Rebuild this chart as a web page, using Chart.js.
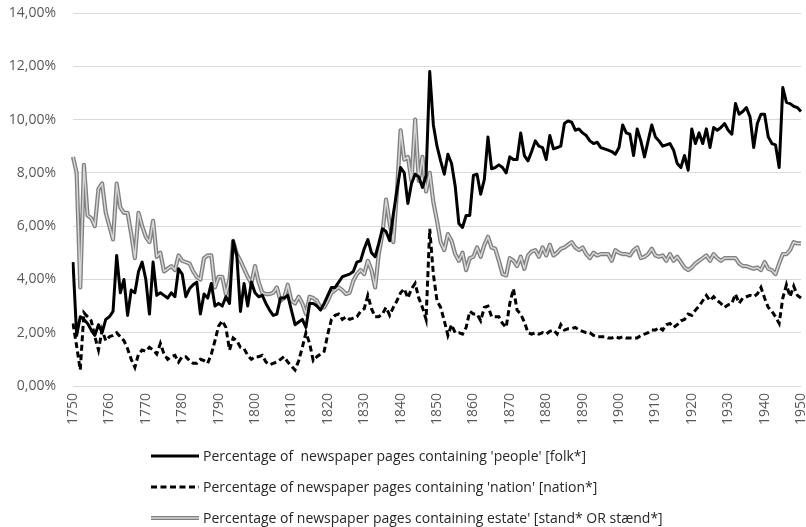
<!DOCTYPE html>
<html>
<head>
<meta charset="utf-8">
<script src="https://cdn.jsdelivr.net/npm/chart.js@4.4.1/dist/chart.umd.min.js"></script>
<style>
  body { margin: 0; background: #fff; }
  #wrap { position: relative; width: 806px; height: 527px; }
  #legenda { position: absolute; left: 151px; top: 440px; font-family: 'Open Sans', sans-serif; font-size: 14px; color: #262626; }
  #legenda div { height: 31px; display: flex; align-items: center; white-space: pre; }
  #legenda svg { margin-right: 4px; }
</style>
</head>
<body>
<div id="wrap">
  <canvas id="grafico"></canvas>
  <div id="legenda"></div>
</div>
<script>
const years = Array.from({ length: 201 }, (_, i) => 1750 + i)

const seriesNames = [
    "Percentage of  newspaper pages containing 'people' [folk*]",
    "Percentage of newspaper pages containing 'nation' [nation*]",
    "Percentage of newspaper pages containing estate' [stand* OR stænd*]"
]

// folk*
const people = [
    4.65, 1.9, 2.6, 2.5, 2.35, 2.1, 1.9, 2.3, 2.0, 2.5,
    2.6, 2.8, 4.9, 3.5, 4.0, 2.65, 3.6, 3.5, 4.3, 4.65,
    4.0, 2.7, 4.65, 3.4, 3.5, 3.4, 3.3, 3.5, 3.35, 4.4,
    4.2, 3.35, 3.65, 3.8, 3.9, 2.7, 3.45, 3.3, 3.85, 3.0,
    3.1, 3.0, 3.35, 3.1, 5.45, 4.9, 2.8, 3.85, 3.0, 3.9,
    3.5, 3.35, 3.4, 3.1, 2.85, 2.65, 2.7, 3.3, 3.3, 3.4,
    2.85, 2.3, 2.4, 2.5, 2.2, 3.1, 3.1, 3.0, 2.85, 3.1,
    3.4, 3.7, 3.7, 3.9, 4.1, 4.15, 4.2, 4.3, 4.65, 4.7,
    5.15, 5.5, 5.0, 4.85, 5.35, 5.9, 5.8, 5.45, 6.45, 7.35,
    8.2, 8.0, 6.85, 7.6, 7.95, 7.85, 7.45, 7.9, 11.8, 9.8,
    9.0, 8.45, 7.95, 8.7, 8.35, 7.5, 6.1, 5.95, 6.4, 6.4,
    7.9, 7.95, 7.2, 7.75, 9.35, 8.15, 8.2, 8.3, 8.2, 8.0,
    8.6, 8.5, 8.5, 9.5, 8.65, 8.45, 8.8, 9.2, 9.0, 8.95,
    8.5, 9.4, 8.9, 8.95, 9.0, 9.85, 9.95, 9.9, 9.6, 9.65,
    9.5, 9.4, 9.2, 9.1, 9.15, 8.95, 8.9, 8.85, 8.8, 8.7,
    8.95, 9.8, 9.5, 9.45, 8.65, 9.65, 9.2, 8.6, 9.2, 9.8,
    9.35, 9.2, 9.0, 9.05, 9.1, 8.85, 8.35, 8.2, 8.65, 8.1,
    9.65, 9.1, 9.5, 9.1, 9.65, 8.95, 9.7, 9.6, 9.7, 9.85,
    9.6, 9.45, 10.6, 10.2, 10.3, 10.45, 10.1, 8.95, 9.85, 10.2,
    10.2, 9.35, 9.1, 9.05, 8.2, 11.2, 10.65, 10.6, 10.5, 10.45,
    10.3
]

// nation*
const nation = [
    2.35, 1.5, 0.6, 2.75, 2.6, 2.45, 1.85, 1.35, 2.1, 1.7,
    1.85, 1.9, 2.0, 1.85, 1.7, 1.4, 1.0, 0.7, 1.2, 1.35,
    1.3, 1.45, 1.35, 1.2, 1.6, 1.2, 1.0, 1.1, 1.15, 0.9,
    1.1, 1.1, 0.95, 0.85, 0.85, 1.0, 0.95, 0.85, 1.2, 1.7,
    2.25, 2.45, 2.2, 1.35, 1.8, 1.7, 1.45, 1.4, 1.15, 1.0,
    1.1, 1.1, 1.15, 0.9, 0.8, 0.85, 0.9, 1.0, 1.1, 0.9,
    0.75, 0.6, 0.95, 1.45, 2.0, 1.6, 0.95, 1.1, 1.2, 1.3,
    1.95, 2.5, 2.65, 2.7, 2.5, 2.6, 2.5, 2.55, 2.6, 2.8,
    2.9, 3.4, 2.9, 2.6, 2.6, 2.7, 2.95, 2.65, 2.95, 3.2,
    3.5, 3.65, 3.3, 3.65, 3.85, 3.3, 2.95, 2.5, 5.9, 4.2,
    3.2, 2.95, 2.45, 1.9, 2.3, 2.0, 2.0, 1.95, 2.2, 2.8,
    2.7, 2.7, 2.45, 2.95, 3.0, 2.6, 2.6, 2.6, 2.35, 2.2,
    3.1, 3.65, 2.85, 2.7, 2.4, 2.0, 1.95, 2.0, 1.95, 2.0,
    1.95, 2.05, 2.1, 1.95, 2.3, 2.1, 2.15, 2.15, 2.2, 2.1,
    2.05, 2.0, 2.0, 1.9, 1.85, 1.85, 1.85, 1.8, 1.8, 1.85,
    1.8, 1.85, 1.8, 1.8, 1.8, 1.8, 1.9, 1.95, 2.0, 2.1,
    2.1, 2.2, 2.1, 2.3, 2.35, 2.2, 2.3, 2.45, 2.5, 2.7,
    2.65, 2.85, 3.0, 3.2, 3.4, 3.2, 3.35, 3.2, 3.1, 2.95,
    3.05, 3.1, 3.45, 3.1, 3.3, 3.35, 3.4, 3.35, 3.45, 3.7,
    3.3, 2.95, 2.8, 2.6, 2.35, 3.3, 3.8, 3.35, 3.75, 3.4,
    3.3
]

// stand* OR stænd*
const estate = [
    8.6, 8.0, 3.7, 8.3, 6.4, 6.3, 6.0, 7.4, 7.6, 6.5,
    6.0, 5.5, 7.6, 6.7, 6.5, 6.5, 5.7, 4.8, 6.5, 6.0,
    5.6, 5.4, 6.2, 4.85, 5.0, 4.3, 4.4, 4.5, 4.35, 4.9,
    4.7, 4.65, 4.6, 4.3, 4.1, 4.0, 4.8, 4.9, 4.9, 3.7,
    4.1, 4.1, 3.45, 4.0, 5.45, 4.95, 4.7, 4.4, 4.1, 3.85,
    4.5, 3.9, 3.5, 3.45, 3.45, 3.5, 3.7, 3.2, 3.3, 3.8,
    3.2, 3.1, 3.35, 3.1, 2.7, 3.35, 3.3, 3.2, 2.95, 2.95,
    3.2, 3.5, 3.6, 3.7, 3.6, 3.45, 3.5, 3.95, 4.2, 4.35,
    4.2, 4.7, 4.35, 3.7, 4.95, 5.7, 7.0, 6.1, 5.4, 7.3,
    9.6, 8.5, 8.6, 7.7, 10.0, 7.7, 8.6, 7.3, 8.0, 6.9,
    6.2, 5.4, 5.1, 5.7, 5.45, 4.95, 4.7, 5.0, 4.35, 4.8,
    4.85, 5.2, 4.85, 5.3, 5.6, 5.2, 5.15, 4.7, 4.2, 4.15,
    4.8, 4.7, 4.5, 4.85, 4.4, 4.9, 5.05, 5.1, 4.85, 5.2,
    4.9, 5.3, 4.9, 5.0, 5.15, 5.2, 5.3, 5.4, 5.2, 5.1,
    5.2, 4.95, 4.8, 5.0, 4.9, 4.95, 4.95, 4.95, 4.7, 5.1,
    5.0, 4.95, 4.95, 4.9, 5.1, 5.2, 4.8, 4.85, 4.95, 5.15,
    4.9, 4.85, 4.9, 4.7, 4.95, 4.7, 4.85, 4.65, 4.45, 4.35,
    4.45, 4.6, 4.7, 4.8, 4.9, 4.7, 4.95, 4.8, 4.7, 4.8,
    4.8, 4.8, 4.8, 4.6, 4.5, 4.5, 4.45, 4.4, 4.45, 4.35,
    4.65, 4.4, 4.35, 4.2, 4.6, 4.95, 4.95, 5.1, 5.4, 5.35,
    5.35
]

const yTicks = { min: 0, max: 14, step: 2 }

const tickFont = { family: "'Open Sans', sans-serif", size: 14 }

new Chart(document.querySelector('#grafico'), {
    type: 'line',
    data: {
        labels: years,
        datasets: [{
            label: seriesNames[0],
            data: people,
            borderColor: '#000000',
            borderWidth: 3
        },
        {
            label: seriesNames[1],
            data: nation,
            borderColor: '#000000',
            borderWidth: 3,
            borderDash: [6, 3.5],
            borderJoinStyle: 'miter'
        },
        {
            label: seriesNames[2],
            data: estate,
            borderColor: '#d6d6d6',
            borderWidth: 1.5
        },
        {
            // dark edge of the double line
            label: 'estate-edge',
            data: estate,
            borderColor: '#808080',
            borderWidth: 4.2
        }]
    },
    options: {
        responsive: true,
        maintainAspectRatio: false,
        animation: false,
        layout: {
            padding: { top: 13, right: 5, bottom: 97, left: 0 }
        },
        elements: {
            point: { radius: 0 },
            line: { tension: 0, borderJoinStyle: 'round' }
        },
        plugins: {
            legend: { display: false },
            tooltip: { enabled: false }
        },
        scales: {
            x: {
                grid: { display: false, drawTicks: false },
                border: { display: false },
                ticks: {
                    autoSkip: false,
                    minRotation: 90,
                    maxRotation: 90,
                    padding: 7,
                    color: '#595959',
                    font: tickFont,
                    callback: function (v, i) {
                        return years[i] % 10 === 0 ? String(years[i]) : null
                    }
                },
                afterFit: function (scale) {
                    scale.paddingLeft = 0
                    scale.paddingRight = 0
                    scale.height = 44
                }
            },
            y: {
                min: yTicks.min,
                max: yTicks.max,
                grid: {
                    color: '#d9d9d9',
                    drawTicks: false
                },
                border: { display: false },
                ticks: {
                    stepSize: yTicks.step,
                    padding: 17,
                    color: '#595959',
                    font: tickFont,
                    callback: v => v.toFixed(2).replace('.', ',') + '%'
                },
                afterFit: function (scale) {
                    scale.width = 73
                    scale.paddingTop = 0
                    scale.paddingBottom = 0
                }
            }
        }
    }
})

// legend below the chart, one entry per row
const samples = [
    '<line x1="0" y1="5" x2="48" y2="5" stroke="#000" stroke-width="3"/>',
    '<line x1="0" y1="5" x2="48" y2="5" stroke="#000" stroke-width="3" stroke-dasharray="6 3.5"/>',
    '<line x1="0" y1="5" x2="48" y2="5" stroke="#808080" stroke-width="4.2"/>' +
    '<line x1="0" y1="5" x2="48" y2="5" stroke="#d6d6d6" stroke-width="1.5"/>'
]
const legenda = document.querySelector('#legenda')
seriesNames.forEach((name, i) => {
    const row = document.createElement('div')
    row.innerHTML = '<svg width="48" height="10">' + samples[i] + '</svg>'
    const span = document.createElement('span')
    span.textContent = name
    row.appendChild(span)
    legenda.appendChild(row)
})
</script>
</body>
</html>
